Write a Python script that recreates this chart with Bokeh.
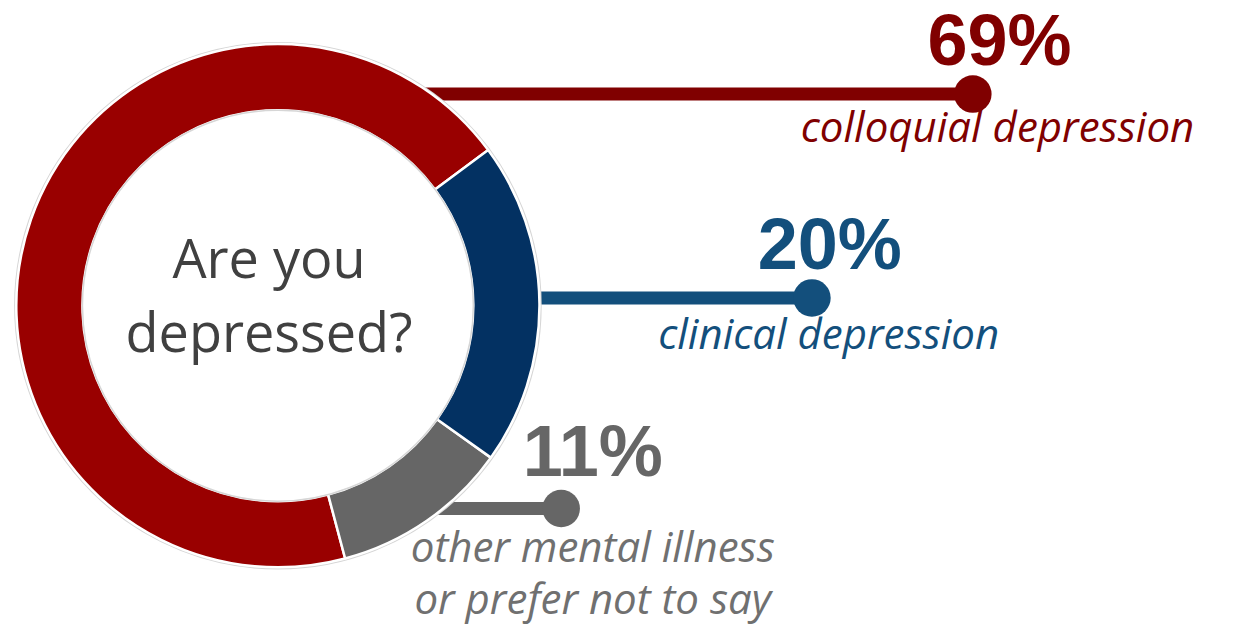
import math
from bokeh.plotting import figure
from bokeh.models import Range1d
from bokeh.core.properties import value
from bokeh.embed import file_html
from bokeh.resources import INLINE

# ---------------- data ----------------
categories = ["colloquial depression", "other mental illness", "clinical depression"]
shares = [69, 11, 20]
ring_colors = ["#990000", "#666666", "#033162"]
accent_colors = ["#800000", "#666666", "#134F7C"]
label_colors = ["#800000", "#707070", "#134F7C"]
pct_labels = ["69%", "11%", "20%"]
sub_labels = [["colloquial depression"],
              ["other mental illness", "or prefer not to say"],
              ["clinical depression"]]
center_lines = ["Are you", "depressed?"]

# ---------------- layout (reference px, y down) ----------------
W, H = 1243, 643
PW, PH = 1227, 627
SY = PH / H  # screen px per data unit (vertical)

def Y(sy):
    return H - sy

def TY(sy, fs):
    # compensate renderer's baseline shift (~0.385 em)
    return H - sy + 0.385 * fs / SY

CX, CY = 281, 313
R_OUT, R_IN = 265, 198
START_DEG = 36.5  # red/blue boundary

dot_x = [985, 568, 822]
dot_y = [96, 521, 305]
pct_x = [1012, 600, 840]
pct_base = [69, 490, 278]
sub_x = [1010, 600, 839]
sub_base = [[145], [575, 629], [357]]

FONT = "Open Sans"
PCT_FONT = "Liberation Sans"
PCT_FS = 72
SUB_FS = 42
CEN_FS = 54

p = figure(width=PW, height=PH, output_backend="svg", toolbar_location=None,
           x_range=Range1d(0, W), y_range=Range1d(0, H),
           min_border=0, match_aspect=False)
p.axis.visible = False
p.grid.visible = False
p.outline_line_color = None
p.background_fill_color = "white"
p.border_fill_color = "white"

for i in range(3):
    p.segment(x0=[CX], y0=[Y(dot_y[i])], x1=[dot_x[i]], y1=[Y(dot_y[i])],
              line_color=accent_colors[i], line_width=13, line_cap="butt")
    p.scatter(x=[dot_x[i]], y=[Y(dot_y[i])], size=37.5, marker="circle",
              fill_color=accent_colors[i], line_color=None)

total = float(sum(shares))
starts, ends = [], []
acc = 0.0
for s in shares:
    a0 = math.radians(START_DEG + 360.0 * acc / total)
    acc += s
    a1 = math.radians(START_DEG + 360.0 * acc / total)
    starts.append(a0)
    ends.append(a1)

p.circle(x=[CX], y=[Y(CY)], radius=R_OUT + 1.5, fill_color=None,
         line_color="#d6d6d6", line_width=1.5)
p.annular_wedge(x=[CX] * 3, y=[Y(CY)] * 3, inner_radius=R_IN, outer_radius=R_OUT,
                start_angle=starts, end_angle=ends, direction="anticlock",
                fill_color=ring_colors, line_color="white", line_width=2.5)
p.circle(x=[CX], y=[Y(CY)], radius=R_IN, fill_color="white",
         line_color="#d6d6d6", line_width=1.5)
p.circle(x=[CX], y=[Y(CY)], radius=R_IN - 1.5, fill_color="white",
         line_color=None)

center_base = [284, 360]
for t, b in zip(center_lines, center_base):
    p.text(x=[272], y=[TY(b, CEN_FS)], text=[t], text_font=value(FONT),
           text_font_size=f"{CEN_FS}px", text_color="#404040",
           text_align="center", text_baseline="alphabetic")

for i in range(3):
    p.text(x=[pct_x[i]], y=[TY(pct_base[i], PCT_FS)], text=[pct_labels[i]],
           text_font=value(PCT_FONT), text_font_style="bold",
           text_font_size=f"{PCT_FS}px", text_color=accent_colors[i],
           text_align="center", text_baseline="alphabetic")
    for line, b in zip(sub_labels[i], sub_base[i]):
        p.text(x=[sub_x[i]], y=[TY(b, SUB_FS)], text=[line],
               text_font=value(FONT), text_font_style="italic",
               text_font_size=f"{SUB_FS}px", text_color=label_colors[i],
               text_align="center", text_baseline="alphabetic")

open("out.html", "w").write(file_html(p, INLINE))
